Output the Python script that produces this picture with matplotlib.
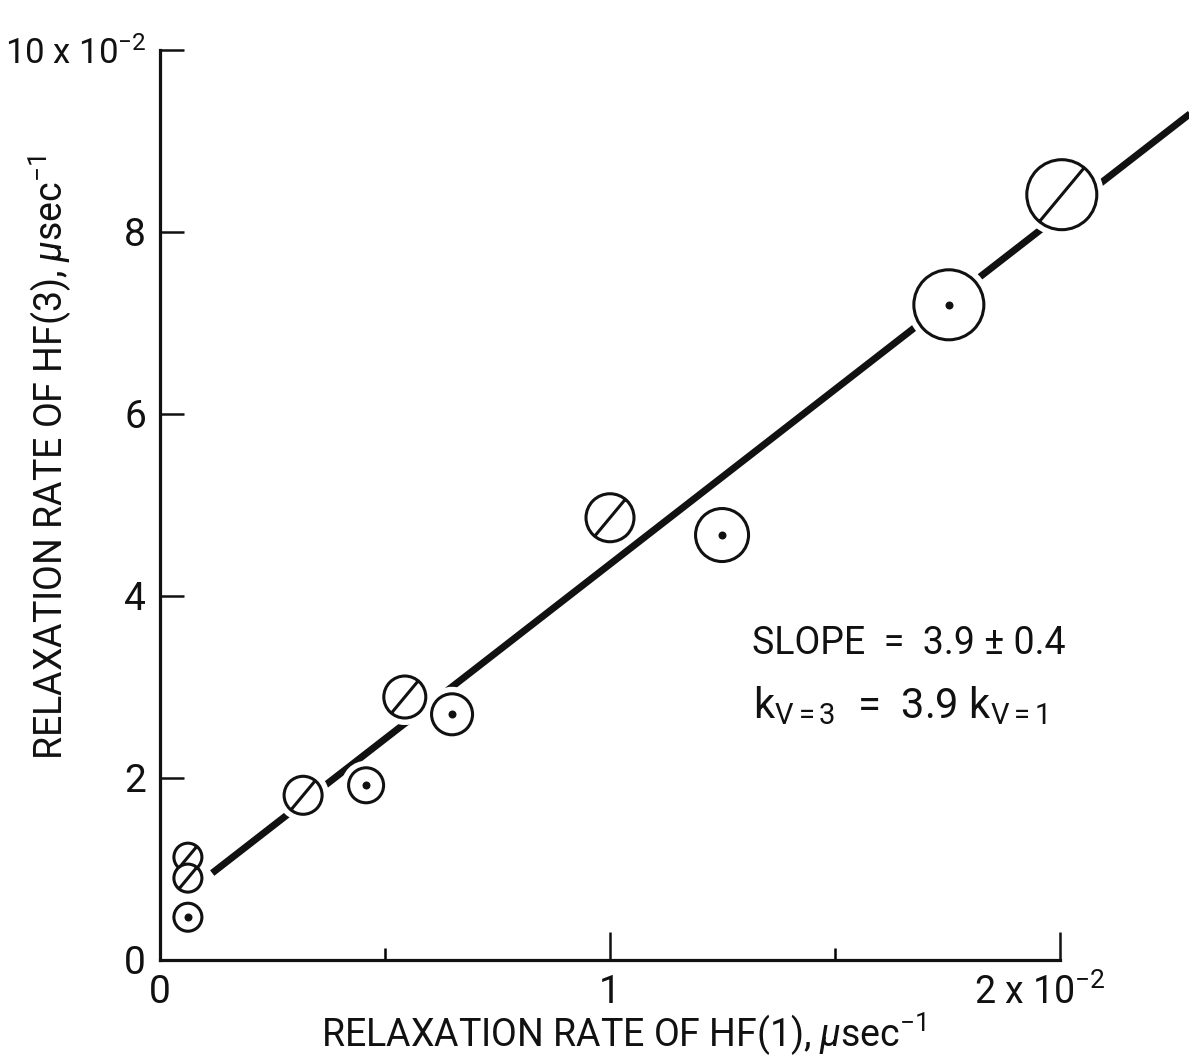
import numpy as np
import matplotlib

matplotlib.use("Agg")
import matplotlib.pyplot as plt
from matplotlib.path import Path

FONT = ["Roboto", "DejaVu Sans"]
plt.rcParams["font.family"] = FONT
plt.rcParams["mathtext.fontset"] = "custom"
plt.rcParams["mathtext.rm"] = "Roboto"
plt.rcParams["mathtext.it"] = "Roboto:italic"
plt.rcParams["mathtext.bf"] = "Roboto:bold"

# relaxation rates, units of 1e-2 usec^-1
slash_x = [0.062, 0.062, 0.318, 0.544, 1.000, 2.004]
slash_y = [1.13, 0.90, 1.81, 2.89, 4.86, 8.41]
slash_err = [28, 28, 38, 42, 48, 70]      # circle diameter (px)
dot_x = [0.062, 0.458, 0.649, 1.249, 1.753]
dot_y = [0.47, 1.92, 2.70, 4.67, 7.20]
dot_err = [28, 35, 41, 53, 70]
FIT_SLOPE, FIT_INTERCEPT = 3.84, 0.51
fit_x = np.array([0.116, 2.30])

W, H, DPI = 1189, 1062, 100
PX = 72.0 / DPI                            # points per pixel
INK = "#111111"
FS = 27

fig = plt.figure(figsize=(W / DPI, H / DPI), dpi=DPI)
ax = fig.add_axes([160 / W, 1 - 960 / H, 1029 / W, 910 / H])
ax.set_xlim(0, 1029 / 450)
ax.set_ylim(0, 10)

# fit line, broken around the circles by a white halo
ax.plot(fit_x, FIT_INTERCEPT + FIT_SLOPE * fit_x, color=INK, lw=5.0,
        solid_capstyle="butt", zorder=2)
halo = lambda d: ((np.asarray(d) + 14) * PX) ** 2
ax.scatter(slash_x, slash_y, s=halo(slash_err), c="white", lw=0, zorder=3)
ax.scatter(dot_x, dot_y, s=halo(dot_err), c="white", lw=0, zorder=3)

slash = Path.make_compound_path(
    Path.unit_circle(),
    Path([[-0.64, -0.77], [0.64, 0.77]], [Path.MOVETO, Path.LINETO]))
size = lambda d: (np.asarray(d) * PX) ** 2
ax.scatter(slash_x, slash_y, s=size(slash_err), marker=slash,
           facecolors="white", edgecolors=INK, linewidths=2.2, zorder=4)
ax.scatter(dot_x, dot_y, s=size(dot_err), marker="o",
           facecolors="white", edgecolors=INK, linewidths=2.2, zorder=4)
ax.scatter(dot_x, dot_y, s=(8 * PX) ** 2, c=INK, lw=0, zorder=5)

for side in ("top", "right"):
    ax.spines[side].set_visible(False)
for side in ("left", "bottom"):
    ax.spines[side].set_linewidth(2.3)
    ax.spines[side].set_color(INK)
ax.spines["bottom"].set_bounds(0, 2)

ax.set_xticks([0, 1, 2])
ax.set_xticklabels(["0", "1", ""])
ax.set_xticks([0.5, 1.5], minor=True)
ax.tick_params(axis="x", which="major", direction="in", length=20, width=1.8,
               pad=10, labelsize=FS + 1, colors=INK)
ax.tick_params(axis="x", which="minor", direction="in", length=9, width=1.8)
ax.set_yticks([0, 2, 4, 6, 8, 10])
ax.set_yticklabels(["0", "2", "4", "6", "8", "10 x 10$^{-2}$"])
ax.tick_params(axis="y", direction="in", length=17, width=1.8, pad=10,
               labelsize=FS + 1, colors=INK)
ax.get_yticklabels()[-1].set_fontsize(25)
ax.xaxis.get_major_ticks()[0].tick1line.set_visible(False)
ax.yaxis.get_major_ticks()[0].tick1line.set_visible(False)

ax.annotate("2 x 10$^{-2}$", xy=(1.956, 0), xycoords=("data", "axes fraction"),
            xytext=(0, -10), textcoords="offset points",
            ha="center", va="top", fontsize=FS, color=INK)

fig.text(624 / W, 1 - 1047 / H, r"RELAXATION RATE OF HF(1), $\mu$sec$^{-1}$",
         ha="center", va="baseline", fontsize=FS, color=INK)
fig.text(50 / W, 1 - 457 / H, r"RELAXATION RATE OF HF(3), $\mu$sec$^{-1}$",
         ha="center", va="center", rotation=90, fontsize=FS, color=INK)

ax.text(1.664, 3.48, "SLOPE  =  3.9 \u00b1 0.4", ha="center", va="center",
        fontsize=FS, color=INK)
ax.text(1.645, 2.80, r"k$_{\mathrm{V=3}}$  =  3.9 k$_{\mathrm{V=1}}$",
        ha="center", va="center", fontsize=FS + 3, color=INK)

fig.savefig("out.png", dpi=DPI)
